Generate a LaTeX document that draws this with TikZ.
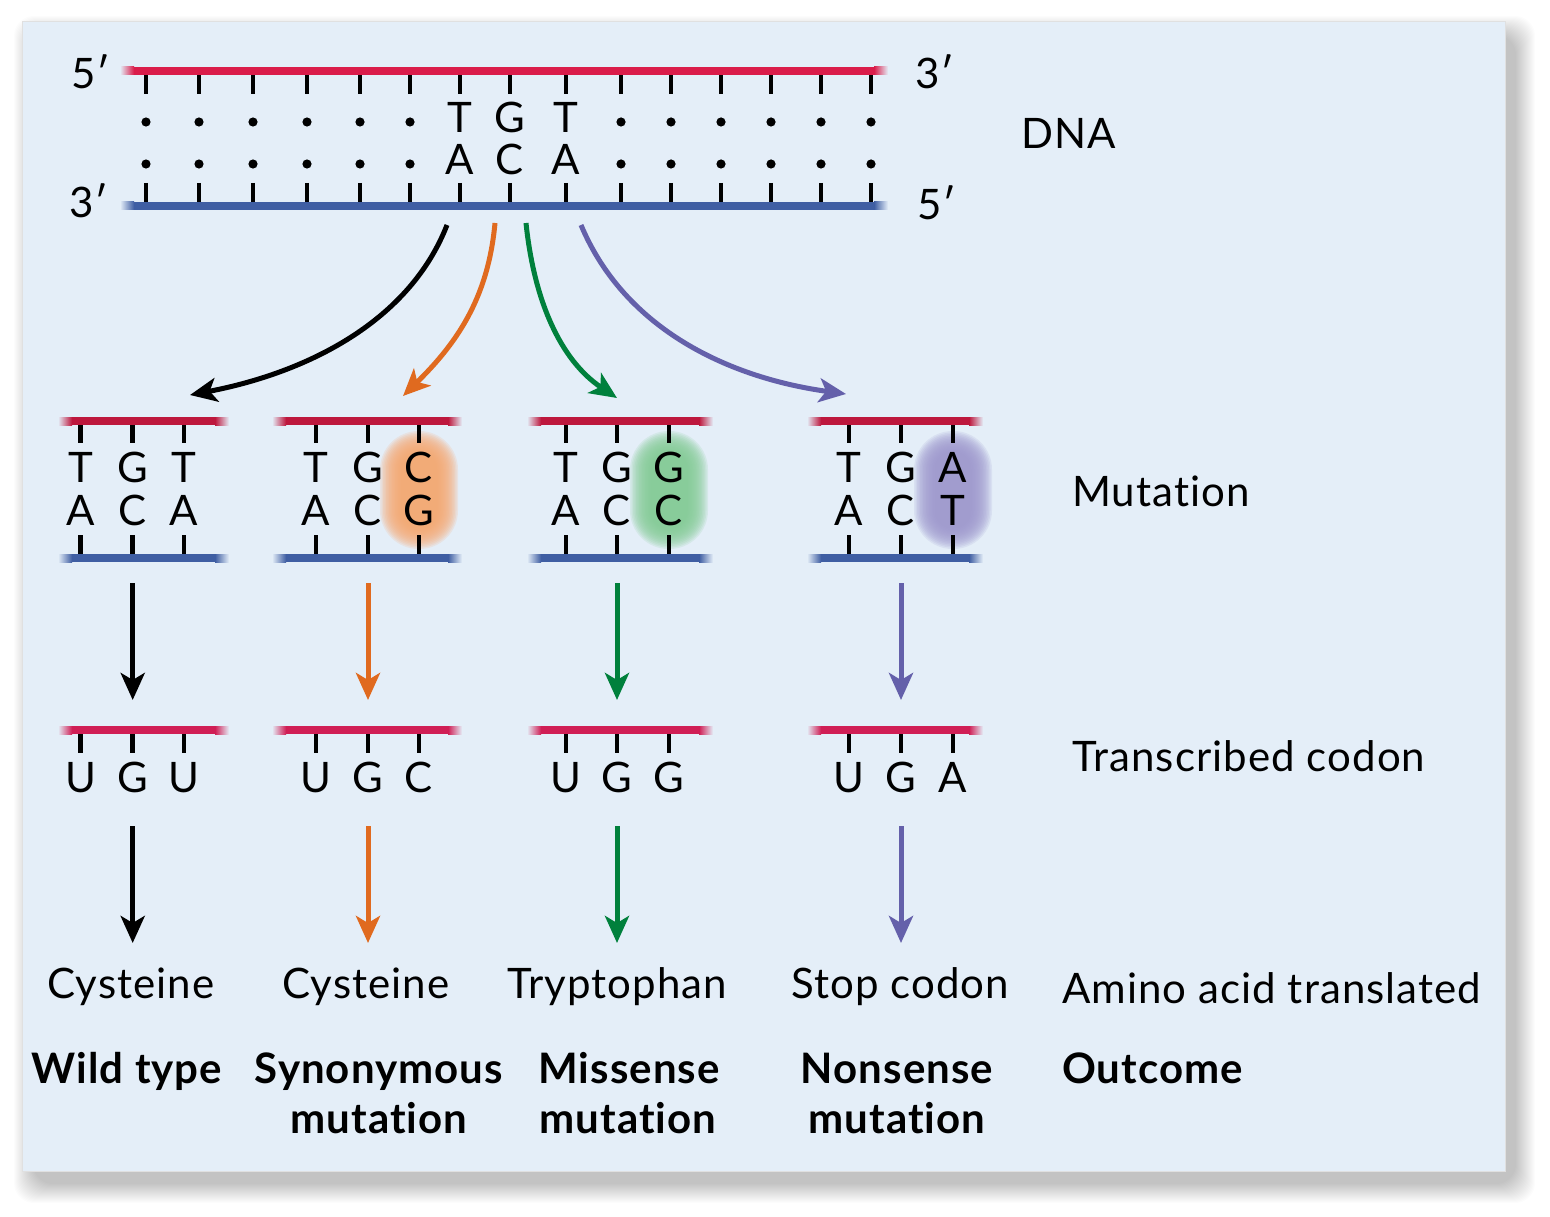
\documentclass[tikz,border=0pt]{standalone}
\usepackage{fontspec}
\setmainfont{Lato}[LetterSpace=2.5,Ligatures={NoCommon,NoRare}]
\usetikzlibrary{arrows.meta}
\definecolor{bgpanel}{HTML}{E4EEF8}
\definecolor{redtop}{HTML}{DA1C4A}
\definecolor{redmid}{HTML}{BD173D}
\definecolor{redcod}{HTML}{D01E55}
\definecolor{bluestr}{HTML}{3F5EA3}
\definecolor{arrorange}{HTML}{E06A1F}
\definecolor{arrgreen}{HTML}{00803C}
\definecolor{arrpurple}{HTML}{6460AA}
\definecolor{bloborange}{HTML}{F8A870}
\definecolor{blobgreen}{HTML}{84CC96}
\definecolor{blobpurple}{HTML}{9E98CE}
\newcommand\strandline[4]{%
  \fill[#4] ({#1+13.5},{#3-4}) rectangle ({#2-13.5},{#3+4});
  \shade[left color=bgpanel, right color=#4] (#1,{#3-4}) rectangle ({#1+14},{#3+4});
  \shade[left color=#4, right color=bgpanel] ({#2-14},{#3-4}) rectangle (#2,{#3+4});
}
\newcommand\blobpair[2]{% x, color
  \foreach \r in {39,37.5,...,18} {
    \fill[#2, opacity=0.16, rounded corners={\r*1pt-0.5pt}] ({#1-\r},{470-\r}) rectangle ({#1+\r},{510+\r});
  }
}
\tikzset{
  basetick/.style={line width=4.5pt},
  nt/.style={anchor=base, inner sep=0pt, font=\fontsize{42}{50}\selectfont},
  lbl/.style={anchor=base west, inner sep=0pt, font=\fontsize{42}{50}\selectfont},
  clbl/.style={anchor=base, inner sep=0pt, font=\fontsize{42}{50}\selectfont},
  blbl/.style={anchor=base, inner sep=0pt, font=\fontsize{42}{50}\selectfont\bfseries},
  arr/.style={line width=5pt, -{Stealth[length=27pt,width=24pt,inset=7pt]}},
}
\begin{document}
\begin{tikzpicture}[x=1pt,y=-1pt]
\useasboundingbox (0,0) rectangle (1550,1217);
\fill[white] (0,0) rectangle (1550,1217);
% shadow
\foreach \i in {0,...,19} {
  \fill[black, opacity=0.013, rounded corners=20] ({14+\i},{16+\i}) rectangle ({1535-\i},{1203-\i});
}
\fill[bgpanel, draw=black!12, line width=1pt] (22,22) rectangle (1505,1171);

% ---------- top DNA ----------
\foreach \x in {146,199,253,307,360,410,460,510,566,621,671,721,771,821,871} {
  \draw[basetick] (\x,73) -- (\x,94);
  \draw[basetick] (\x,183) -- (\x,205);
}
\foreach \x in {146,199,253,307,360,410,621,671,721,771,821,871} {
  \fill (\x,122) circle (4.6);
  \fill (\x,164) circle (4.6);
}
\strandline{120}{888}{71}{redtop}
\strandline{120}{888}{206}{bluestr}
\node[nt] (dT1) at (460,133) {T};
\node[nt] (dG1) at (510,133) {G};
\node[nt] (dT2) at (566,133) {T};
\node[nt] (dA1) at (460,175) {A};
\node[nt] (dC1) at (510,175) {C};
\node[nt] (dA2) at (566,175) {A};
\node[lbl] (p5a) at (71,89) {5′};
\node[lbl] (p3a) at (69,218) {3′};
\node[lbl] (p3b) at (915,89) {3′};
\node[lbl] (p5b) at (917,219) {5′};
\node[lbl] (dna) at (1021,149) {DNA};

% ---------- mutation panels ----------
\blobpair{419}{bloborange}
\blobpair{669}{blobgreen}
\blobpair{953}{blobpurple}
\foreach \xa/\xb/\ca/\cb/\cc/\ta/\tb/\tc/\ba/\bb/\bc/\ua/\ub/\uc/\k in
  {58/229/80.7/132.7/184/T/G/T/A/C/A/U/G/U/1,
   272/462/316/368/419/T/G/C/A/C/G/U/G/C/2,
   527/713/566/617/669/T/G/G/A/C/C/U/G/G/3,
   807/983/849/901/953/T/G/A/A/C/T/U/G/A/4} {
  \foreach \x in {\ca,\cb,\cc} {
    \draw[basetick] (\x,423) -- (\x,443);
    \draw[basetick] (\x,535) -- (\x,556);
    \draw[basetick] (\x,732) -- (\x,753);
  }
  \strandline{\xa}{\xb}{421}{redmid}
  \strandline{\xa}{\xb}{558}{bluestr}
  \strandline{\xa}{\xb}{730}{redcod}
  \node[nt] (m\k a) at (\ca,482) {\ta};
  \node[nt] (m\k b) at (\cb,482) {\tb};
  \node[nt] (m\k c) at (\cc,482) {\tc};
  \node[nt] (n\k a) at (\ca,525) {\ba};
  \node[nt] (n\k b) at (\cb,525) {\bb};
  \node[nt] (n\k c) at (\cc,525) {\bc};
  \node[nt] (r\k a) at (\ca,792) {\ua};
  \node[nt] (r\k b) at (\cb,792) {\ub};
  \node[nt] (r\k c) at (\cc,792) {\uc};
  \coordinate (vA\k) at (\cb,583);
  \coordinate (vB\k) at (\cb,700);
  \coordinate (vC\k) at (\cb,826);
  \coordinate (vD\k) at (\cb,943);
}
\node[lbl] (mut) at (1072,506) {Mutation};
\node[lbl] (tco) at (1072,771) {Transcribed codon};

% ---------- curved arrows ----------
\coordinate (s1) at (447,225);
\coordinate (e1) at (190,395);
\coordinate (s2) at (495,223);
\coordinate (e2) at (403,396);
\coordinate (s3) at (526,223);
\coordinate (e3) at (617,398);
\coordinate (s4) at (581,225);
\coordinate (e4) at (846,394);
\draw[arr, black] (s1) .. controls (410,320) and (310,372) .. (e1);
\draw[arr, arrorange] (s2) .. controls (488,300) and (455,345) .. (e2);
\draw[arr, arrgreen] (s3) .. controls (534,300) and (560,360) .. (e3);
\draw[arr, arrpurple] (s4) .. controls (625,330) and (730,378) .. (e4);

% ---------- straight arrows ----------
\foreach \k/\c in {1/black,2/arrorange,3/arrgreen,4/arrpurple} {
  \draw[arr, \c] (vA\k) -- (vB\k);
  \draw[arr, \c] (vC\k) -- (vD\k);
}

% ---------- bottom labels ----------
\node[clbl] (aa1) at (131,998) {Cysteine};
\node[clbl] (aa2) at (366,998) {Cysteine};
\node[clbl] (aa3) at (617,998) {Tryptophan};
\node[clbl] (aa4) at (900,998) {Stop codon};
\node[lbl] (aat) at (1062,1003) {Amino acid translated};
\node[blbl] (o1) at (127,1083) {Wild type};
\node[blbl] (o2a) at (379,1083) {Synonymous};
\node[blbl] (o2b) at (379,1133) {mutation};
\node[blbl] (o3a) at (629,1083) {Missense};
\node[blbl] (o3b) at (628,1133) {mutation};
\node[blbl] (o4a) at (897,1083) {Nonsense};
\node[blbl] (o4b) at (897,1133) {mutation};
\node[lbl, font=\fontsize{42}{50}\selectfont\bfseries] (oc) at (1062,1083) {Outcome};
\end{tikzpicture}
\end{document}
